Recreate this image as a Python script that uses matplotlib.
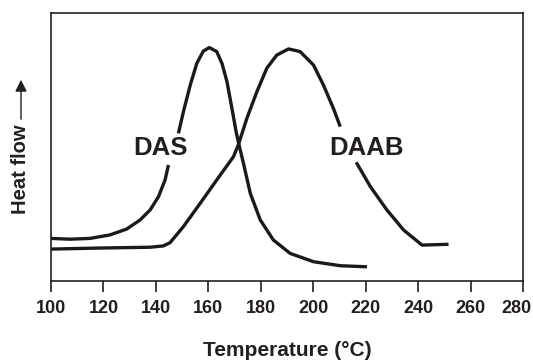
import numpy as np
import matplotlib
matplotlib.use("Agg")
import matplotlib.pyplot as plt
from matplotlib.transforms import ScaledTranslation

plt.rcParams['font.family'] = ['Liberation Sans', 'DejaVu Sans']

# DAS curve (gap where label sits)
das_x = [99.6, 107.3, 114.9, 122.5, 128.9, 134.0, 137.8, 141.0, 143.5, 144.8, np.nan,
         148.6, 150.5, 153.1, 155.6, 158.1, 160.4, 163.2, 165.2, 167.1, 169.0, 170.6,
         171.5, 173.4, 176.0, 179.8, 184.8, 191.2, 200.1, 210.3, 220.5]
das_y = [15.9, 15.6, 15.9, 17.2, 19.4, 22.8, 26.5, 31.5, 37.7, 43.3, np.nan,
         55.1, 63.2, 73.1, 81.2, 85.8, 87.1, 85.6, 81.2, 74.4, 64.4, 55.7,
         51.6, 43.9, 32.7, 22.8, 15.3, 10.3, 7.2, 5.7, 5.3]

# DAAB curve (gap where label sits)
daab_x = [99.6, 118.7, 137.8, 142.9, 145.4, 150.5, 156.9, 163.2, 169.6, 171.5,
          174.7, 178.5, 182.3, 186.1, 190.6, 195.0, 200.1, 203.9, 207.7, 210.3, np.nan,
          216.4, 221.8, 228.1, 234.5, 241.5, 251.6]
daab_y = [11.9, 12.3, 12.6, 13.1, 14.3, 20.3, 29.0, 37.7, 46.4, 51.0,
          60.7, 70.6, 79.4, 84.3, 86.6, 85.6, 80.6, 73.1, 64.4, 57.6, np.nan,
          44.3, 35.2, 26.5, 19.0, 13.4, 13.7]

labels = ["DAS", "DAAB"]
label_x = [141.6, 220.5]
label_y = [49.5, 49.5]

xticks = [100, 120, 140, 160, 180, 200, 220, 240, 260, 280]

fig = plt.figure(figsize=(5.33, 3.63), dpi=100)
ax = fig.add_axes([51/533, 1-281/363, (523-51)/533, (281-13)/363])

lw = 2.4
ink = '#231f20'
ax.plot(das_x, das_y, color='#1a1a1a', lw=lw, solid_capstyle='butt', solid_joinstyle='round')
ax.plot(daab_x, daab_y, color='#1a1a1a', lw=lw, solid_capstyle='butt', solid_joinstyle='round')

for t, x, y in zip(labels, label_x, label_y):
    ax.text(x, y, t, fontsize=18.5, fontweight='bold', ha='center', va='center', color=ink)

ax.set_xlim(100, 280)
ax.set_ylim(0, 100)
ax.set_xticks(xticks)
ax.set_xticklabels([str(v) for v in xticks], fontsize=13, fontweight='bold', color=ink)
ax.set_yticks([])
ax.tick_params(axis='x', direction='out', length=8, width=1.2, pad=6, color=ink)
for s in ax.spines.values():
    s.set_linewidth(1.2)
    s.set_color(ink)

# keep the last tick label inside the picture, as in the reference
last = ax.get_xticklabels()[-1]
last.set_transform(last.get_transform() + ScaledTranslation(-7/100, 0, fig.dpi_scale_trans))

fig.text(287/533, 1-350/363, "Temperature (°C)", fontsize=15, fontweight='bold',
         ha='center', va='center', color=ink)
fig.text(21/533, 1-169/363, "Heat flow", fontsize=14.5, fontweight='bold', rotation=90,
         ha='center', va='center', color=ink)
fig.add_artist(matplotlib.patches.FancyArrowPatch(
    (21/533, 1-122/363), (21/533, 1-77/363), transform=fig.transFigure,
    arrowstyle='-|>,head_length=7,head_width=3.5', lw=1.0, color=ink, mutation_scale=1))

fig.savefig("out.png", dpi=100)
